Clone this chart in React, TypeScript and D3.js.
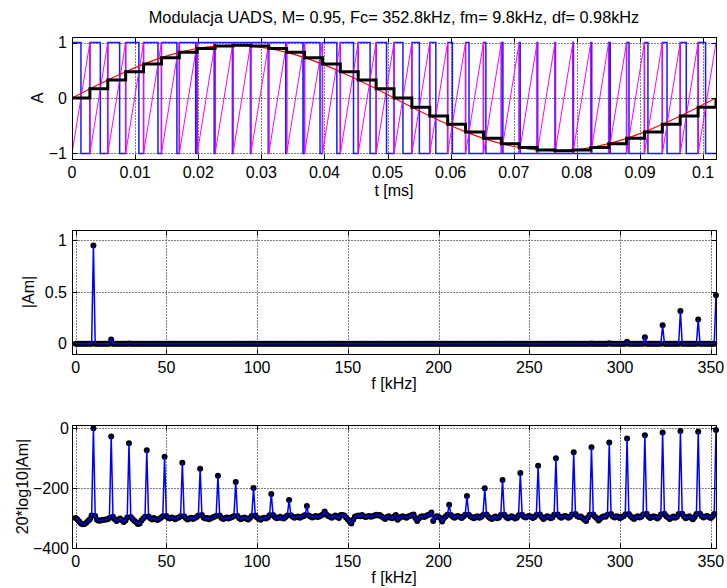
import React from 'react';
import * as d3 from 'd3';

// Signal parameters (kHz)
const FM = 9.8;
const FC = 352.8;
const DF = 0.98;

// Uniformly sampled modulating signal: one level per carrier period, plus the closing sample
const sampleLevels = [
  0, 0.165, 0.325, 0.475, 0.611, 0.728, 0.823, 0.893, 0.936, 0.95, 0.936, 0.893,
  0.823, 0.728, 0.611, 0.475, 0.325, 0.165, 0, -0.165, -0.325, -0.475, -0.611, -0.728,
  -0.823, -0.893, -0.936, -0.95, -0.936, -0.893, -0.823, -0.728, -0.611, -0.475, -0.325, -0.165,
  0,
];

// Harmonics of fm (n = 1..36), magnitude in dB
const harmonicDb = [
  -0.45, -28, -51, -74, -96, -116, -136, -159, -180, -200, -220, -240,
  -260, -278, -290, -294, -292, -290, -288, -282, -256, -227, -201, -173,
  -150, -126, -101, -81, -64, -48, -35, -24, -15, -10, -12.6, -6.6,
];

// Numerical noise floor (dB): bins 0..9, then the nine bins between each pair of harmonics
const noiseDb = [
  -300, -305, -312, -318, -321, -320, -316, -310, -304, -292,
  -293, -306, -309, -308, -307, -306, -305, -304, -300,
  -296, -304, -310, -306, -302, -307, -313, -308, -298,
  -297, -303, -309, -314, -320, -318, -308, -302, -296,
  -295, -301, -305, -300, -304, -307, -303, -299, -294,
  -293, -300, -302, -298, -301, -304, -300, -298, -294,
  -294, -301, -305, -302, -299, -303, -300, -297, -292,
  -290, -299, -302, -300, -304, -301, -298, -296, -293,
  -292, -300, -303, -301, -298, -302, -299, -297, -293,
  -293, -301, -304, -300, -298, -302, -305, -300, -293,
  -292, -298, -303, -306, -301, -299, -302, -298, -291,
  -290, -297, -301, -299, -296, -300, -302, -297, -292,
  -291, -296, -299, -297, -295, -299, -296, -294, -290,
  -292, -295, -298, -296, -293, -297, -295, -292, -288,
  -288, -293, -296, -299, -295, -292, -297, -300, -290,
  -292, -298, -305, -312, -318, -306, -296, -293, -292,
  -290, -294, -297, -295, -293, -296, -294, -292, -289,
  -290, -295, -299, -303, -297, -294, -299, -301, -295,
  -306, -300, -296, -294, -297, -299, -295, -293, -290,
  -300, -310, -302, -296, -294, -297, -293, -290, -288,
  -310, -298, -294, -296, -300, -312, -301, -295, -289,
  -290, -296, -299, -295, -293, -297, -300, -295, -289,
  -289, -295, -298, -301, -296, -294, -299, -297, -290,
  -288, -296, -300, -303, -298, -295, -301, -298, -290,
  -289, -297, -301, -298, -294, -297, -302, -299, -291,
  -289, -296, -298, -295, -293, -296, -300, -297, -290,
  -288, -297, -303, -299, -294, -296, -301, -298, -289,
  -288, -295, -299, -296, -293, -295, -299, -296, -288,
  -287, -294, -297, -295, -300, -306, -310, -298, -289,
  -288, -296, -301, -308, -302, -297, -294, -296, -289,
  -287, -295, -298, -294, -296, -301, -297, -294, -288,
  -287, -294, -299, -303, -297, -294, -298, -296, -288,
  -286, -295, -300, -297, -294, -297, -302, -297, -288,
  -286, -294, -298, -303, -299, -295, -299, -296, -287,
  -286, -295, -301, -297, -294, -300, -304, -297, -287,
  -286, -294, -298, -295, -293, -297, -300, -295, -287,
];

const timeTicks = [0, 0.01, 0.02, 0.03, 0.04, 0.05, 0.06, 0.07, 0.08, 0.09, 0.1];
const ampTicks = [-1, 0, 1];
const freqTicks = [0, 50, 100, 150, 200, 250, 300, 350];
const magTicks = [0, 0.5, 1];
const dbTicks = [-400, -200, 0];

const FONT = 'Liberation Sans, Arial, Helvetica, sans-serif';
const fmt = (v: number) => (v < 0 ? '\u2212' + String(Math.abs(v)) : String(v));
const px = (v: number) => Math.round(v) + 0.5;

type Scale = d3.ScaleLinear<number, number>;

interface FrameProps {
  x: Scale;
  y: Scale;
  xTicks: number[];
  yTicks: number[];
  tickLabelY: number;
  yTickLabelX: number;
  xLabel: string;
  xLabelY: number;
  yLabel: string;
  yLabelX: number;
  children?: React.ReactNode;
}

// Axes box with dotted grid, inward ticks on all four sides, tick labels and axis titles
function Frame({ x, y, xTicks, yTicks, tickLabelY, yTickLabelX, xLabel, xLabelY, yLabel, yLabelX, children }: FrameProps) {
  const [x0, x1] = x.range();
  const [yb, yt] = y.range();
  const L = px(x0), R = px(x1), T = px(yt), B = px(yb);
  const tl = 5;
  const yMid = (yb + yt) / 2;
  return (
    <g>
      <g stroke="#000" strokeWidth={1} strokeDasharray="1 2" fill="none">
        {xTicks.map((t) => (
          <line key={'gx' + t} x1={px(x(t))} x2={px(x(t))} y1={T} y2={B} />
        ))}
        {yTicks.map((t) => (
          <line key={'gy' + t} x1={L} x2={R} y1={px(y(t))} y2={px(y(t))} />
        ))}
      </g>
      {children}
      <g stroke="#000" strokeWidth={1} fill="none">
        <rect x={L} y={T} width={R - L} height={B - T} />
        {xTicks.map((t) => (
          <g key={'tx' + t}>
            <line x1={px(x(t))} x2={px(x(t))} y1={B} y2={B - tl} />
            <line x1={px(x(t))} x2={px(x(t))} y1={T} y2={T + tl} />
          </g>
        ))}
        {yTicks.map((t) => (
          <g key={'ty' + t}>
            <line x1={L} x2={L + tl} y1={px(y(t))} y2={px(y(t))} />
            <line x1={R} x2={R - tl} y1={px(y(t))} y2={px(y(t))} />
          </g>
        ))}
      </g>
      <g fontFamily={FONT} fontSize={16} fill="#000">
        {xTicks.map((t) => (
          <text key={'lx' + t} x={x(t)} y={tickLabelY} textAnchor="middle">
            {fmt(t)}
          </text>
        ))}
        {yTicks.map((t) => (
          <text key={'ly' + t} x={yTickLabelX} y={y(t)} dy="0.35em" textAnchor="end">
            {fmt(t)}
          </text>
        ))}
        <text x={(x0 + x1) / 2} y={xLabelY} textAnchor="middle">
          {xLabel}
        </text>
        <text transform={`translate(${yLabelX},${yMid}) rotate(-90)`} dy="0.35em" textAnchor="middle">
          {yLabel}
        </text>
      </g>
    </g>
  );
}

type Pt = [number, number];

export default function App() {
  const W = 727;
  const H = 588;

  // ---- time-domain panel ----
  const N = sampleLevels.length - 1;
  const tk = (k: number) => k / FC;
  const xT = d3.scaleLinear().domain([0, 1 / FM]).range([72, 716]);
  const yT = d3.scaleLinear().domain([-1.1, 1.1]).range([159, 37]);
  const lineT = d3.line<Pt>().x((d) => xT(d[0])).y((d) => yT(d[1]));
  const smoothT = d3.line<Pt>().x((d) => xT(d[0])).y((d) => yT(d[1])).curve(d3.curveNatural);

  const samplePts: Pt[] = sampleLevels.map((s, k) => [tk(k), s]);
  const stairPts: Pt[] = [];
  const sawPts: Pt[] = [];
  const pwmPts: Pt[] = [];
  for (let k = 0; k < N; k++) {
    const s = sampleLevels[k];
    stairPts.push([tk(k), s], [tk(k + 1), s]);
    sawPts.push([tk(k), -1], [tk(k + 1), 1]);
    const te = tk(k) + ((1 + s) / 2) / FC;
    pwmPts.push([tk(k), -1], [tk(k), 1], [te, 1], [te, -1]);
  }
  stairPts.push([tk(N), sampleLevels[N]]);
  pwmPts.push([tk(N), -1]);

  // ---- spectrum ----
  const spectrum: { f: number; db: number; am: number }[] = [];
  let ni = 0;
  for (let i = 0; i <= 360; i++) {
    const db = i > 0 && i % 10 === 0 ? harmonicDb[i / 10 - 1] : noiseDb[ni++];
    spectrum.push({ f: i * DF, db, am: Math.pow(10, db / 20) });
  }

  const xF = d3.scaleLinear().domain([-2, FC]).range([72, 716]);
  const yM = d3.scaleLinear().domain([-0.1, 1.1]).range([354, 230]);
  const yD = d3.scaleLinear().domain([-400, 10]).range([548, 425]);
  const lineM = d3.line<{ f: number; am: number }>().x((d) => xF(d.f)).y((d) => yM(d.am));
  const lineD = d3.line<{ f: number; db: number }>().x((d) => xF(d.f)).y((d) => yD(d.db));

  return (
    <svg width={W} height={H} style={{ position: 'absolute', left: 0, top: 0, background: '#fff' }}>
      <rect width={W} height={H} fill="#fff" />
      <defs>
        <clipPath id="clipTime">
          <rect x={72} y={37} width={644} height={122} />
        </clipPath>
      </defs>

      <text x={394} y={23} textAnchor="middle" fontFamily={FONT} fontSize={16.3} fill="#000">
        Modulacja UADS, M= 0.95, Fc= 352.8kHz, fm= 9.8kHz, df= 0.98kHz
      </text>

      <Frame
        x={xT}
        y={yT}
        xTicks={timeTicks}
        yTicks={ampTicks}
        tickLabelY={178}
        yTickLabelX={67}
        xLabel="t [ms]"
        xLabelY={196}
        yLabel="A"
        yLabelX={37}
      >
        <g clipPath="url(#clipTime)" fill="none">
          <path d={lineT(pwmPts) || ''} stroke="#1a1aff" strokeWidth={1.5} />
          <path d={lineT(sawPts) || ''} stroke="#ff00ff" strokeWidth={1} />
          <path d={smoothT(samplePts) || ''} stroke="#ff0000" strokeWidth={1.1} />
          <path d={lineT(stairPts) || ''} stroke="#000" strokeWidth={3} />
        </g>
      </Frame>

      <Frame
        x={xF}
        y={yM}
        xTicks={freqTicks}
        yTicks={magTicks}
        tickLabelY={373}
        yTickLabelX={67}
        xLabel="f [kHz]"
        xLabelY={389}
        yLabel="|Am|"
        yLabelX={28}
      >
        <g>
          {spectrum.map((d, i) => (
            <circle key={i} cx={xF(d.f)} cy={yM(d.am)} r={3} fill="#000" />
          ))}
          <path d={lineM(spectrum) || ''} fill="none" stroke="#0000ff" strokeWidth={1.5} />
        </g>
      </Frame>

      <Frame
        x={xF}
        y={yD}
        xTicks={freqTicks}
        yTicks={dbTicks}
        tickLabelY={567}
        yTickLabelX={69}
        xLabel="f [kHz]"
        xLabelY={583}
        yLabel="20*log10|Am|"
        yLabelX={22}
      >
        <g>
          {spectrum.map((d, i) => (
            <circle key={i} cx={xF(d.f)} cy={yD(d.db)} r={3} fill="#000" />
          ))}
          <path d={lineD(spectrum) || ''} fill="none" stroke="#0000ff" strokeWidth={1.5} />
        </g>
      </Frame>
    </svg>
  );
}
